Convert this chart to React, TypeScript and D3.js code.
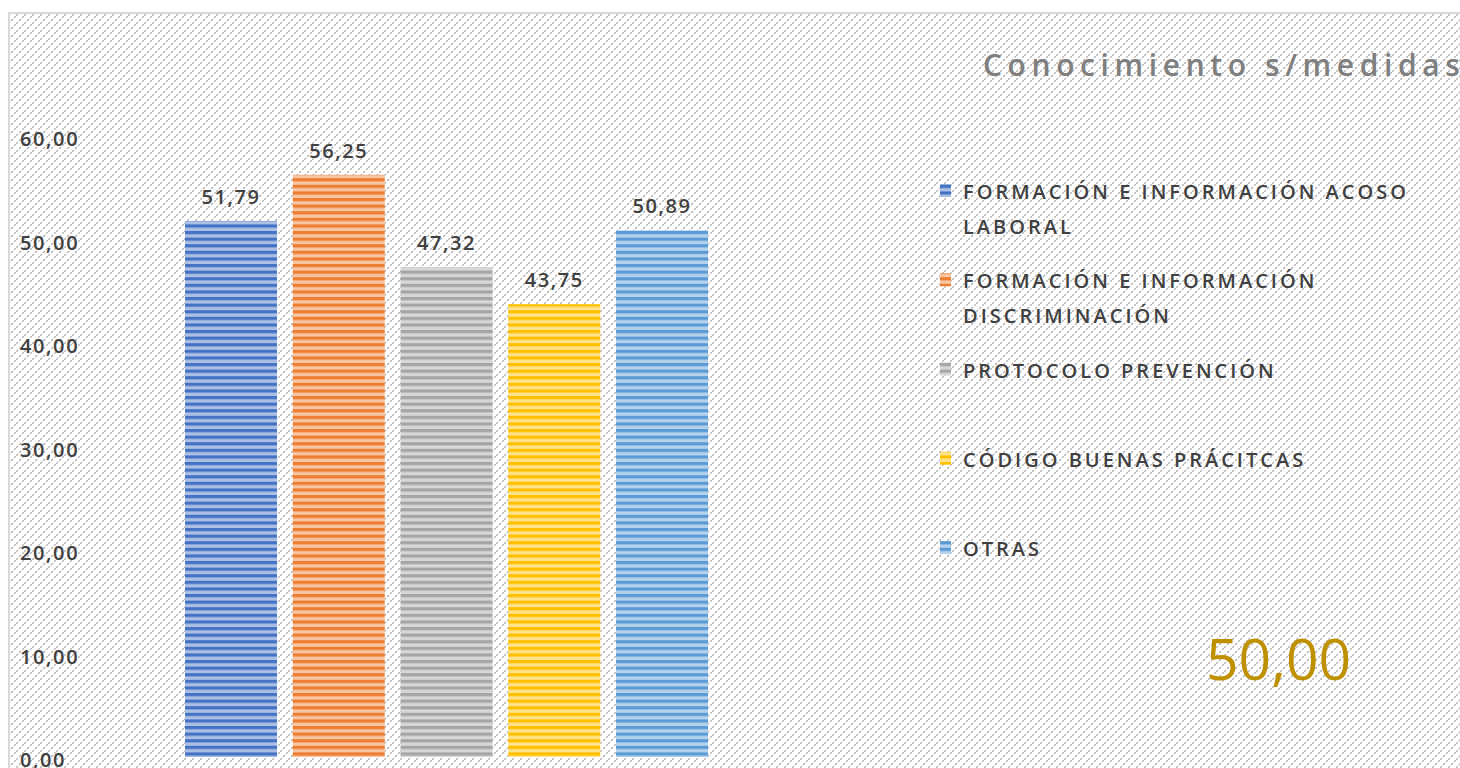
import React from "react";
import * as d3 from "d3";

const categories = [
  "FORMACIÓN E INFORMACIÓN ACOSO LABORAL",
  "FORMACIÓN E INFORMACIÓN DISCRIMINACIÓN",
  "PROTOCOLO PREVENCIÓN",
  "CÓDIGO BUENAS PRÁCITCAS",
  "OTRAS",
];
const values = [51.79, 56.25, 47.32, 43.75, 50.89];
const colors = ["#4472c4", "#ed7d31", "#a5a5a5", "#ffc000", "#5b9bd5"];
const legendLines = [
  ["FORMACIÓN E INFORMACIÓN ACOSO", "LABORAL"],
  ["FORMACIÓN E INFORMACIÓN", "DISCRIMINACIÓN"],
  ["PROTOCOLO PREVENCIÓN"],
  ["CÓDIGO BUENAS PRÁCITCAS"],
  ["OTRAS"],
];
const yTicks = [0, 10, 20, 30, 40, 50, 60];
const title = "Conocimiento s/medidas";
const average = "50,00";

const fmt = (v: number) => v.toFixed(2).replace(".", ",");

export default function App() {
  const W = 1460;
  const H = 768;
  const y = d3.scaleLinear().domain([0, 60]).range([757, 136]);
  const x = d3
    .scaleBand<string>()
    .domain(categories)
    .range([185, 708])
    .paddingInner(0.146)
    .paddingOuter(0);
  const legendY = d3.scalePoint<number>().domain([0, 1, 2, 3, 4]).range([191, 548]);
  const font = "'Open Sans', 'Noto Sans', sans-serif";

  return (
    <svg width={W} height={H} style={{ position: "absolute", left: 0, top: 0, background: "#fff" }}>
      <defs>
        <pattern id="hatch" patternUnits="userSpaceOnUse" width={8} height={8}>
          <line x1={0} y1={8} x2={8} y2={0} stroke="#b8b8b8" strokeWidth={1.5} strokeDasharray="2.8 1.6" />
        </pattern>
        {colors.map((c, i) => (
          <pattern key={i} id={`stripe${i}`} patternUnits="userSpaceOnUse" width={10} height={6.6}>
            <rect x={0} y={0} width={10} height={6.6} fill={d3.interpolateRgb(c, "#ffffff")(0.55)} />
            <rect x={0} y={0} width={10} height={3.2} fill={c} />
          </pattern>
        ))}
      </defs>
      <rect x={9} y={13} width={W} height={H} fill="url(#hatch)" stroke="#d9d9d9" strokeWidth={2} />

      <text x={983} y={76} fill="#7f7f7f" fontFamily={font} fontSize={30} fontWeight={600} letterSpacing={5.6}>
        {title}
      </text>

      {yTicks.map((t) => (
        <text key={t} x={20} y={y(t) + 10} fill="#404040" fontFamily={font} fontSize={20} fontWeight={600} letterSpacing={1.6}>
          {fmt(t)}
        </text>
      ))}

      {categories.map((c, i) => (
        <g key={c}>
          <rect
            x={x(c)}
            y={y(values[i])}
            width={x.bandwidth()}
            height={y(0) - y(values[i])}
            fill={`url(#stripe${i})`}
          />
          <text
            x={(x(c) as number) + x.bandwidth() / 2}
            y={y(values[i]) - 17}
            textAnchor="middle"
            fill="#404040"
            fontFamily={font}
            fontSize={20}
            fontWeight={600}
            letterSpacing={1.6}
          >
            {fmt(values[i])}
          </text>
        </g>
      ))}

      {legendLines.map((lines, i) => (
        <g key={i}>
          <rect x={940} y={legendY(i)! - 7} width={11} height={13} fill={`url(#stripe${i})`} />
          {lines.map((l, j) => (
            <text
              key={j}
              x={963}
              y={legendY(i)! + 8 + j * 35}
              fill="#404040"
              fontFamily={font}
              fontSize={20}
              fontWeight={600}
              letterSpacing={3}
            >
              {l}
            </text>
          ))}
        </g>
      ))}

      <text x={1206} y={680} fill="#bf9000" fontFamily={font} fontSize={57}>
        {average}
      </text>
    </svg>
  );
}
